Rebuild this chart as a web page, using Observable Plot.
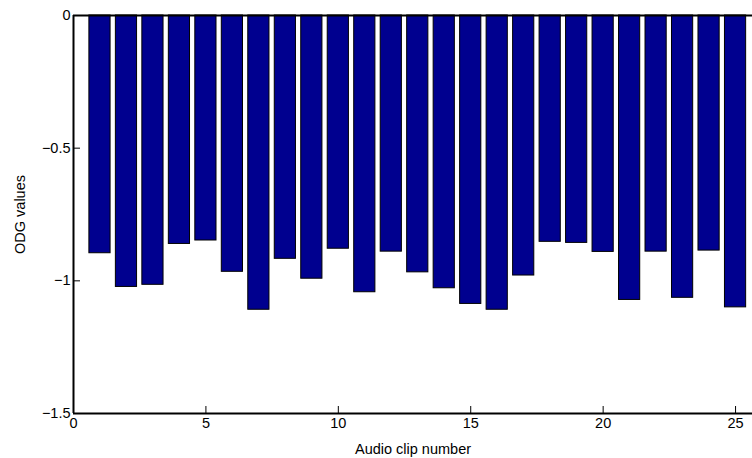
<!DOCTYPE html>
<html>
<head>
<meta charset="utf-8">
<script src="https://cdn.jsdelivr.net/npm/d3@7"></script>
<script src="https://cdn.jsdelivr.net/npm/@observablehq/plot@0.6"></script>
<style>
  html, body { margin: 0; padding: 0; background: white; }
</style>
</head>
<body>
<div id="chart"></div>
<script>
const clips = [1,2,3,4,5,6,7,8,9,10,11,12,13,14,15,16,17,18,19,20,21,22,23,24,25];
const odg = [-0.896,-1.023,-1.015,-0.861,-0.848,-0.966,-1.109,-0.917,-0.992,-0.879,-1.043,-0.890,-0.968,-1.028,-1.087,-1.109,-0.980,-0.853,-0.857,-0.891,-1.072,-0.890,-1.064,-0.886,-1.100];
const xTicks = [0,5,10,15,20,25];
const yTicks = [0,-0.5,-1,-1.5];
const xLabel = "Audio clip number";
const yLabel = "ODG values";

const data = clips.map((c, i) => ({clip: c, odg: odg[i]}));
const fmt = v => (v < 0 ? "\u2212" : "") + String(Math.abs(v));

const chart = Plot.plot({
  width: 752,
  height: 458,
  marginLeft: 73,
  marginRight: 0,
  marginTop: 15,
  marginBottom: 45,
  style: {fontFamily: "'Liberation Sans', Arial, sans-serif", fontSize: "14px", background: "white", color: "black"},
  x: {domain: [0, 25.64]},
  y: {domain: [-1.5, 0]},
  marks: [
    Plot.rect(data, {x1: d => d.clip - 0.4, x2: d => d.clip + 0.4, y1: () => 0, y2: "odg", fill: "#00008f", stroke: "black", strokeWidth: 1}),
    Plot.axisX(xTicks, {tickSize: -7, tickPadding: 11, stroke: "black", tickFormat: fmt, label: xLabel, labelAnchor: "center", labelArrow: "none", labelOffset: 40, fontSize: 14.5}),
    Plot.axisY(yTicks, {tickSize: -7, tickPadding: 10, stroke: "black", tickFormat: fmt, label: yLabel, labelAnchor: "center", labelArrow: "none", labelOffset: 59, fontSize: 14.5}),
    Plot.ruleX([0], {stroke: "black", strokeWidth: 2}),
    Plot.ruleY([-1.5], {stroke: "black", strokeWidth: 2}),
    Plot.ruleY([0], {stroke: "black", strokeWidth: 2})
  ]
});
document.getElementById("chart").appendChild(chart);
</script>
</body>
</html>
